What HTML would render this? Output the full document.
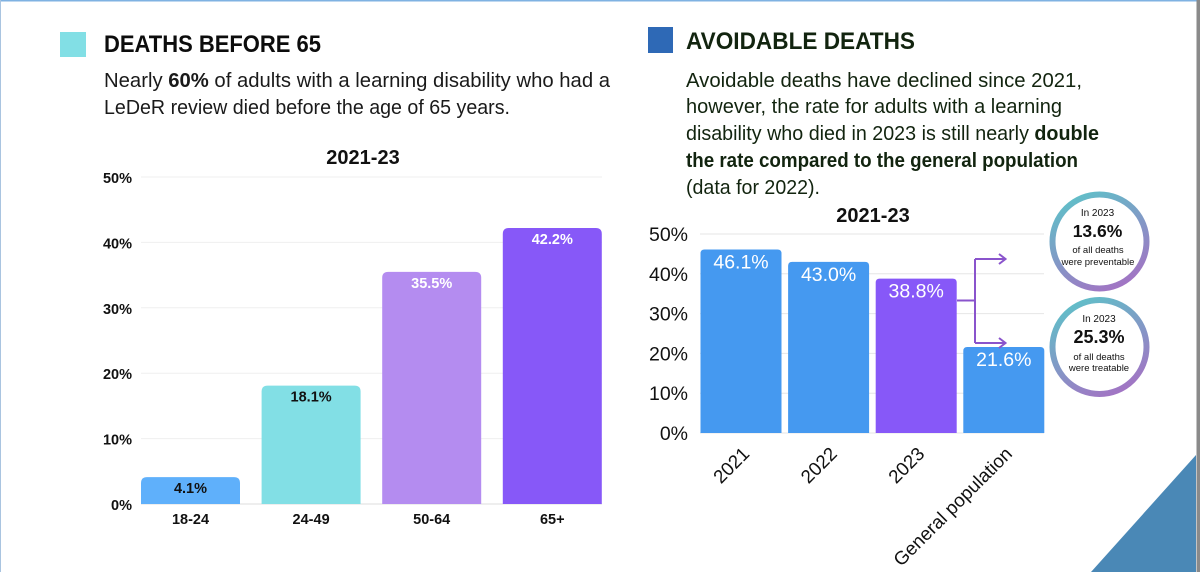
<!DOCTYPE html>
<html lang="en">
<head>
<meta charset="utf-8">
<title>Deaths before 65 and avoidable deaths</title>
<style>
html,body{margin:0;padding:0;background:#fff;}
body{width:1200px;height:572px;overflow:hidden;}
svg{display:block;font-family:"Liberation Sans",sans-serif;}
</style>
</head>
<body>
<svg id="page" xmlns="http://www.w3.org/2000/svg" width="1200" height="572" viewBox="0 0 1200 572">
<defs>
<linearGradient id="ring" x1="0.2" y1="0" x2="0.7" y2="1">
<stop offset="0" stop-color="#5fc0c8"/>
<stop offset="1" stop-color="#a274c4"/>
</linearGradient>
</defs>
<rect width="1200" height="572" fill="#fff"/>
<rect x="0" y="0" width="1200" height="1.5" fill="#7fb2e2"/>
<rect x="0" y="0" width="1" height="572" fill="#a9c4e0"/>
<polygon points="1196,455 1196,572 1091,572" fill="#4a88b6"/>
<rect x="1196.5" y="0" width="3.5" height="572" fill="#8a8a8a"/>

<rect x="60" y="32" width="26" height="25" fill="#82dfe5"/>
<text x="104" y="52" font-size="24" font-weight="700" fill="#0c0c0c" textLength="217" lengthAdjust="spacingAndGlyphs">DEATHS BEFORE 65</text>
<text x="104" y="87" font-size="20.5" fill="#1a1a1a" textLength="506" lengthAdjust="spacingAndGlyphs">Nearly <tspan font-weight="700">60%</tspan> of adults with a learning disability who had a</text>
<text x="104" y="114" font-size="20.5" fill="#1a1a1a" textLength="406" lengthAdjust="spacingAndGlyphs">LeDeR review died before the age of 65 years.</text>

<rect x="648" y="27" width="25" height="26" fill="#2e69b6"/>
<text x="686" y="49" font-size="24" font-weight="700" fill="#12240f" textLength="229" lengthAdjust="spacingAndGlyphs">AVOIDABLE DEATHS</text>
<text x="686" y="87" font-size="20.5" fill="#12240f" textLength="396" lengthAdjust="spacingAndGlyphs">Avoidable deaths have declined since 2021,</text>
<text x="686" y="113" font-size="20.5" fill="#12240f" textLength="376" lengthAdjust="spacingAndGlyphs">however, the rate for adults with a learning</text>
<text x="686" y="140" font-size="20.5" fill="#12240f" textLength="413" lengthAdjust="spacingAndGlyphs">disability who died in 2023 is still nearly <tspan font-weight="700">double</tspan></text>
<text x="686" y="167" font-size="20.5" font-weight="700" fill="#12240f" textLength="392" lengthAdjust="spacingAndGlyphs">the rate compared to the general population</text>
<text x="686" y="194" font-size="20.5" fill="#12240f" textLength="134" lengthAdjust="spacingAndGlyphs">(data for 2022).</text>

<text x="363" y="164" font-size="20" font-weight="700" text-anchor="middle" fill="#111">2021-23</text>
<text x="873" y="222" font-size="20" font-weight="700" text-anchor="middle" fill="#111">2021-23</text>

<g id="left-chart"></g>
<g id="right-chart"></g>

<g fill="none" stroke="#8a54cc" stroke-width="2">
<path d="M957 300.5H975M975 259V343"/>
<path d="M975 259H1005M999 254L1005.5 259L999 264"/>
<path d="M975 343H1005M999 338L1005.5 343L999 348"/>
</g>

<g text-anchor="middle" fill="#111">
<circle cx="1099.5" cy="241.5" r="47" fill="#fff" stroke="url(#ring)" stroke-width="6"/>
<text x="1097.5" y="216" font-size="10">In 2023</text>
<text x="1097.5" y="237" font-size="17.5" font-weight="700">13.6%</text>
<text x="1098" y="253" font-size="9.5">of all deaths</text>
<text x="1098" y="265" font-size="9.5">were preventable</text>
</g>
<g text-anchor="middle" fill="#111">
<circle cx="1099.5" cy="347" r="47" fill="#fff" stroke="url(#ring)" stroke-width="6"/>
<text x="1099" y="322" font-size="10">In 2023</text>
<text x="1099" y="343" font-size="18" font-weight="700">25.3%</text>
<text x="1099" y="360" font-size="9.5">of all deaths</text>
<text x="1099" y="371" font-size="9.5">were treatable</text>
</g>
</svg>
<script>
var leftCategories = ['18-24', '24-49', '50-64', '65+'];
var leftValues = [4.1, 18.1, 35.5, 42.2];
var leftTicks = [0, 10, 20, 30, 40, 50];
var rightCategories = ['2021', '2022', '2023', 'General population'];
var rightValues = [46.1, 43.0, 38.8, 21.6];
var rightTicks = [0, 10, 20, 30, 40, 50];

var NS = 'http://www.w3.org/2000/svg';
var leftFills = ['#5fb0fb', '#82dfe5', '#b48cf0', '#8758f8'];
var rightFills = ['#4599f0', '#4599f0', '#8758f8', '#4599f0'];
var leftValueInk = ['#111', '#111', '#fff', '#fff'];

function leftY(v) { return 504 - v * 6.54; }
function leftX(i) { return 141 + i * 120.6; }
function rightY(v) { return 433 - v * 3.98; }
function rightX(i) { return 700.5 + i * 87.6; }

function make(tag, attrs, parent, txt) {
  var el = document.createElementNS(NS, tag);
  for (var k in attrs) el.setAttribute(k, attrs[k]);
  if (txt !== undefined) el.textContent = txt;
  parent.appendChild(el);
  return el;
}
function topRoundedBar(x, y, w, base, r) {
  return 'M' + x + ' ' + base + 'V' + (y + r) + 'Q' + x + ' ' + y + ' ' + (x + r) + ' ' + y +
    'H' + (x + w - r) + 'Q' + (x + w) + ' ' + y + ' ' + (x + w) + ' ' + (y + r) + 'V' + base + 'Z';
}

var lc = document.getElementById('left-chart');
leftTicks.forEach(function (t) {
  var line = make('line', {x1: 141, x2: 602, y1: leftY(t), y2: leftY(t), stroke: t === 0 ? '#dcdcdc' : '#efefef', 'stroke-width': 1}, lc);
  
  
  var lab = make('text', {x: 132, y: leftY(t) + 6, 'font-size': 14.5, 'font-weight': 700, 'text-anchor': 'end', fill: '#111'}, lc, t + '%');
  
  
});
leftValues.forEach(function (v, i) {
  var bar = make('path', {d: topRoundedBar(leftX(i), leftY(v), 99, 504, 6), fill: leftFills[i]}, lc);
  
  
  var val = make('text', {x: leftX(i) + 49.5, y: leftY(v) + 16, 'font-size': 14.5, 'font-weight': 700, 'text-anchor': 'middle', fill: leftValueInk[i]}, lc, v.toFixed(1) + '%');
  
  
  var cat = make('text', {x: leftX(i) + 49.5, y: 524, 'font-size': 14.5, 'font-weight': 700, 'text-anchor': 'middle', fill: '#111'}, lc, leftCategories[i]);
  
  
});

var rc = document.getElementById('right-chart');
rightTicks.forEach(function (t) {
  var line = make('line', {x1: 700, x2: 1044, y1: rightY(t), y2: rightY(t), stroke: '#e6e6e6', 'stroke-width': 1}, rc);
  
  
  var lab = make('text', {x: 688, y: rightY(t) + 7, 'font-size': 19.5, 'text-anchor': 'end', fill: '#111'}, rc, t + '%');
  
  
});
rightValues.forEach(function (v, i) {
  var bar = make('path', {d: topRoundedBar(rightX(i), rightY(v), 81, 433, 4), fill: rightFills[i]}, rc);
  
  
  var val = make('text', {x: rightX(i) + 40.5, y: rightY(v) + 19, 'font-size': 19.5, 'text-anchor': 'middle', fill: '#fff'}, rc, v.toFixed(1) + '%');
  
  
  var ax = rightX(i) + 50;
  var cat = make('text', {x: ax, y: 455, 'font-size': 18.8, 'text-anchor': 'end', fill: '#111', transform: 'rotate(-45 ' + ax + ' 455)'}, rc, rightCategories[i]);
  
  
});
</script>
</body>
</html>
